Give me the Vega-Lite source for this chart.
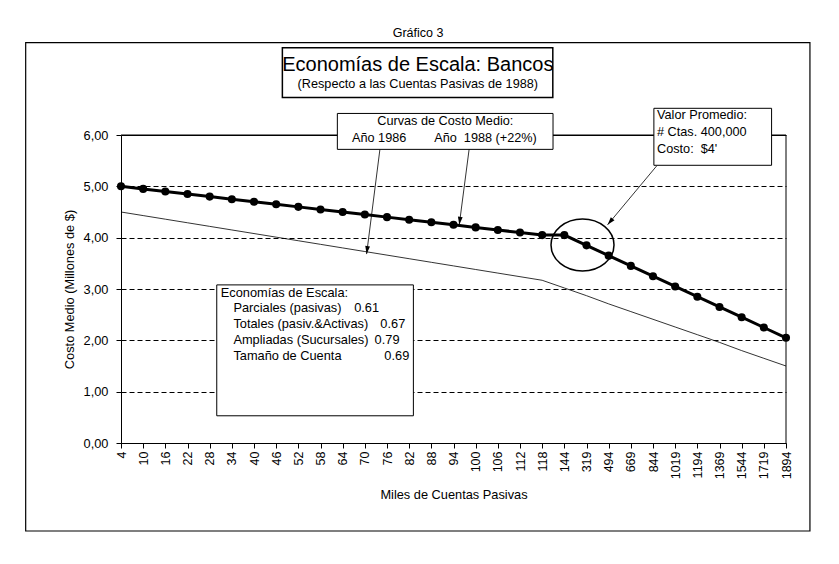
{
  "$schema": "https://vega.github.io/schema/vega-lite/v6.json",
  "width": 665,
  "height": 308,
  "autosize": {"type": "none"},
  "padding": {"left": 121, "top": 135, "right": 53, "bottom": 121},
  "background": "white",
  "config": {
    "font": "Liberation Sans",
    "view": {"stroke": null},
    "axis": {
      "domainColor": "black",
      "tickColor": "black",
      "labelColor": "black",
      "titleColor": "black",
      "labelFontSize": 12.5,
      "titleFontSize": 12.8,
      "titleFontWeight": "normal",
      "tickSize": 5
    },
    "text": {"color": "black"}
  },
  "datasets": {
    "costos": [
      {"cuentas": "4", "c1986": 4.50, "c1988": 5.00},
      {"cuentas": "10", "c1986": 4.43, "c1988": 4.95},
      {"cuentas": "16", "c1986": 4.36, "c1988": 4.90},
      {"cuentas": "22", "c1986": 4.29, "c1988": 4.85},
      {"cuentas": "28", "c1986": 4.22, "c1988": 4.80},
      {"cuentas": "34", "c1986": 4.15, "c1988": 4.75},
      {"cuentas": "40", "c1986": 4.08, "c1988": 4.70},
      {"cuentas": "46", "c1986": 4.01, "c1988": 4.65},
      {"cuentas": "52", "c1986": 3.94, "c1988": 4.60},
      {"cuentas": "58", "c1986": 3.87, "c1988": 4.55},
      {"cuentas": "64", "c1986": 3.80, "c1988": 4.50},
      {"cuentas": "70", "c1986": 3.73, "c1988": 4.45},
      {"cuentas": "76", "c1986": 3.66, "c1988": 4.40},
      {"cuentas": "82", "c1986": 3.59, "c1988": 4.35},
      {"cuentas": "88", "c1986": 3.52, "c1988": 4.30},
      {"cuentas": "94", "c1986": 3.45, "c1988": 4.25},
      {"cuentas": "100", "c1986": 3.38, "c1988": 4.20},
      {"cuentas": "106", "c1986": 3.31, "c1988": 4.15},
      {"cuentas": "112", "c1986": 3.24, "c1988": 4.10},
      {"cuentas": "118", "c1986": 3.17, "c1988": 4.05},
      {"cuentas": "144", "c1986": 3.02, "c1988": 4.05},
      {"cuentas": "319", "c1986": 2.87, "c1988": 3.85},
      {"cuentas": "494", "c1986": 2.71, "c1988": 3.65},
      {"cuentas": "669", "c1986": 2.56, "c1988": 3.45},
      {"cuentas": "844", "c1986": 2.41, "c1988": 3.25},
      {"cuentas": "1019", "c1986": 2.26, "c1988": 3.05},
      {"cuentas": "1194", "c1986": 2.11, "c1988": 2.85},
      {"cuentas": "1369", "c1986": 1.96, "c1988": 2.65},
      {"cuentas": "1544", "c1986": 1.80, "c1988": 2.45},
      {"cuentas": "1719", "c1986": 1.65, "c1988": 2.25},
      {"cuentas": "1894", "c1986": 1.50, "c1988": 2.05}
    ]
  },
  "resolve": {"scale": {"x": "independent", "y": "independent"}},
  "layer": [
    {
      "data": {"name": "costos"},
      "encoding": {
        "x": {
          "field": "cuentas",
          "type": "ordinal",
          "sort": null,
          "scale": {"type": "point", "padding": 0},
          "axis": {
            "title": "Miles de Cuentas Pasivas",
            "labelAngle": -90,
            "labelAlign": "right",
            "labelBaseline": "middle",
            "labelPadding": 3,
            "titlePadding": 10
          }
        }
      },
      "layer": [
        {
          "mark": {"type": "line", "color": "black", "strokeWidth": 0.8},
          "encoding": {
            "y": {
              "field": "c1986",
              "type": "quantitative",
              "scale": {"domain": [0, 6], "nice": false},
              "axis": {
                "title": "Costo Medio (Millones de $)",
                "values": [0, 1, 2, 3, 4, 5, 6],
                "labelExpr": "replace(format(datum.value, '.2f'), '.', ',')",
                "labelFontSize": 12.8,
                "labelPadding": 8,
                "titlePadding": 7,
                "grid": true,
                "gridColor": "black",
                "gridDash": {"condition": {"test": "datum.value >= 6 || datum.value <= 0", "value": []}, "value": [5, 3]},
                "gridWidth": 1
              }
            }
          }
        },
        {
          "mark": {
            "type": "line",
            "color": "black",
            "strokeWidth": 3,
            "point": {"filled": true, "size": 65, "color": "black"}
          },
          "encoding": {
            "y": {
              "field": "c1988",
              "type": "quantitative",
              "scale": {"domain": [0, 6], "nice": false},
              "axis": {"title": "Costo Medio (Millones de $)"}
            }
          }
        }
      ]
    },
    {
      "encoding": {
        "x": {
          "field": "ax",
          "type": "quantitative",
          "scale": {"domain": [0, 30], "nice": false, "zero": false},
          "axis": null
        },
        "y": {
          "field": "ay",
          "type": "quantitative",
          "scale": {"domain": [0, 6], "nice": false, "zero": false},
          "axis": null
        }
      },
      "layer": [
        {
          "data": {"values": [{"ax": -4.3, "ay": 7.8, "ax2": 31.08, "ay2": -1.714}]},
          "mark": {"type": "rect", "fillOpacity": 0, "stroke": "black", "strokeWidth": 1.2},
          "encoding": {"x2": {"field": "ax2"}, "y2": {"field": "ay2"}}
        },
        {
          "data": {"values": [
            {"ax": 0, "ay": 6, "ax2": 30, "ay2": 6},
            {"ax": 30, "ay": 0, "ax2": 30, "ay2": 6}
          ]},
          "mark": {"type": "rule", "color": "black", "strokeWidth": 1},
          "encoding": {"x2": {"field": "ax2"}, "y2": {"field": "ay2"}}
        },
        {
          "data": {"values": [{"ax": 20.82, "ay": 3.857}]},
          "mark": {
            "type": "point",
            "shape": "M-1,0A1,0.825,0,1,1,1,0A1,0.825,0,1,1,-1,0Z",
            "size": 3969,
            "filled": false,
            "stroke": "black",
            "strokeWidth": 1.5,
            "opacity": 1
          }
        },
        {
          "data": {"values": [
            {"ax": 11.08, "ay": 3.68, "ax2": 11.68, "ay2": 5.72},
            {"ax": 15.26, "ay": 4.25, "ax2": 15.71, "ay2": 5.74},
            {"ax": 21.95, "ay": 4.25, "ax2": 24.17, "ay2": 5.4}
          ]},
          "mark": {"type": "rule", "color": "black", "strokeWidth": 0.8},
          "encoding": {"x2": {"field": "ax2"}, "y2": {"field": "ay2"}}
        },
        {
          "data": {"values": [{"ax": 11.08, "ay": 3.68}]},
          "mark": {"type": "point", "shape": "M0,0L-0.3,-1L0.3,-1Z", "size": 256, "filled": true, "color": "black", "opacity": 1, "angle": 7.2}
        },
        {
          "data": {"values": [{"ax": 15.26, "ay": 4.25}]},
          "mark": {"type": "point", "shape": "M0,0L-0.3,-1L0.3,-1Z", "size": 256, "filled": true, "color": "black", "opacity": 1, "angle": 7.4}
        },
        {
          "data": {"values": [{"ax": 21.95, "ay": 4.25}]},
          "mark": {"type": "point", "shape": "M0,0L-0.3,-1L0.3,-1Z", "size": 256, "filled": true, "color": "black", "opacity": 1, "angle": 39.6}
        },
        {
          "data": {"values": [
            {"ax": 9.76, "ay": 6.42, "ax2": 19.49, "ay2": 5.72},
            {"ax": 4.32, "ay": 3.08, "ax2": 13.19, "ay2": 0.53},
            {"ax": 24.04, "ay": 6.52, "ax2": 29.35, "ay2": 5.41}
          ]},
          "mark": {"type": "rect", "fill": "white", "stroke": "black", "strokeWidth": 1},
          "encoding": {"x2": {"field": "ax2"}, "y2": {"field": "ay2"}}
        },
        {
          "data": {"values": [{"ax": 7.28, "ay": 7.7, "ax2": 19.48, "ay2": 6.73}]},
          "mark": {"type": "rect", "fill": "white", "stroke": "black", "strokeWidth": 1.5},
          "encoding": {"x2": {"field": "ax2"}, "y2": {"field": "ay2"}}
        },
        {
          "data": {"values": [{"ax": 13.4, "ay": 7.98, "t": "Gráfico 3"}]},
          "mark": {"type": "text", "fontSize": 12.5, "align": "center", "baseline": "middle"},
          "encoding": {"text": {"field": "t"}}
        },
        {
          "data": {"values": [{"ax": 13.39, "ay": 7.36, "t": "Economías de Escala: Bancos"}]},
          "mark": {"type": "text", "fontSize": 20, "align": "center", "baseline": "middle"},
          "encoding": {"text": {"field": "t"}}
        },
        {
          "data": {"values": [
            {"ax": 13.39, "ay": 6.99, "t": "(Respecto a las Cuentas Pasivas de 1988)"},
            {"ax": 14.63, "ay": 6.265, "t": "Curvas de Costo Medio:"}
          ]},
          "mark": {"type": "text", "fontSize": 12.7, "align": "center", "baseline": "middle"},
          "encoding": {"text": {"field": "t"}}
        },
        {
          "data": {"values": [
            {"ax": 10.42, "ay": 5.94, "t": "Año 1986"},
            {"ax": 14.13, "ay": 5.94, "t": "Año\u00a0\u00a01988 (+22%)"},
            {"ax": 24.18, "ay": 6.39, "t": "Valor Promedio:"},
            {"ax": 24.18, "ay": 6.06, "t": "# Ctas. 400,000"},
            {"ax": 24.18, "ay": 5.72, "t": "Costo:\u00a0\u00a0$4'"}
          ]},
          "mark": {"type": "text", "fontSize": 12.7, "align": "left", "baseline": "middle"},
          "encoding": {"text": {"field": "t"}}
        },
        {
          "data": {"values": [
            {"ax": 4.5, "ay": 2.92, "t": "Economías de Escala:"},
            {"ax": 5.07, "ay": 2.63, "t": "Parciales (pasivas)"},
            {"ax": 5.07, "ay": 2.32, "t": "Totales (pasiv.&Activas)"},
            {"ax": 5.07, "ay": 2.01, "t": "Ampliadas (Sucursales)"},
            {"ax": 5.07, "ay": 1.69, "t": "Tamaño de Cuenta"},
            {"ax": 10.52, "ay": 2.63, "t": "0.61"},
            {"ax": 11.7, "ay": 2.32, "t": "0.67"},
            {"ax": 11.44, "ay": 2.01, "t": "0.79"},
            {"ax": 11.88, "ay": 1.69, "t": "0.69"}
          ]},
          "mark": {"type": "text", "fontSize": 12.8, "align": "left", "baseline": "middle"},
          "encoding": {"text": {"field": "t"}}
        }
      ]
    }
  ]
}
